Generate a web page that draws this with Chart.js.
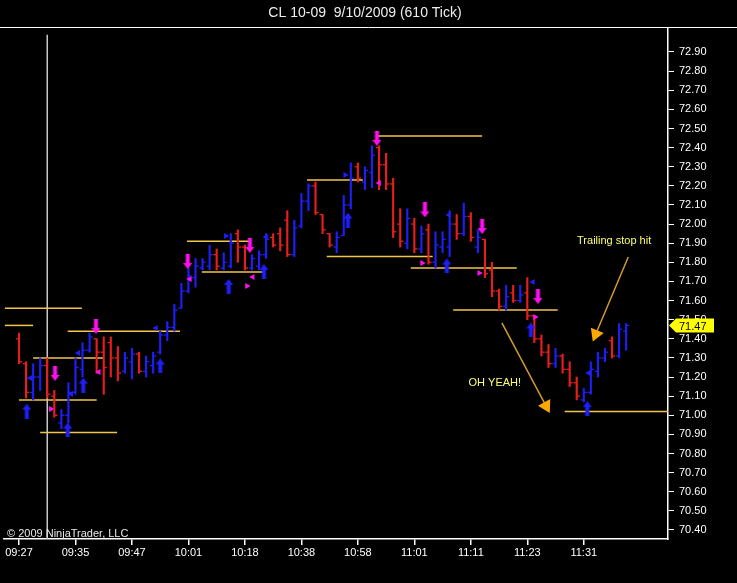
<!DOCTYPE html>
<html>
<head>
<meta charset="utf-8">
<script src="https://cdn.jsdelivr.net/npm/chart.js@4.4.0/dist/chart.umd.min.js"></script>
<style>
  html, body { margin: 0; padding: 0; background: #000; }
</style>
</head>
<body>
<canvas id="tickChart" width="737" height="583"></canvas>
<script>
// 610 tick bars, CL 10-09, 9/10/2009
const chartTitle = "CL 10-09  9/10/2009 (610 Tick)";
const timeLabels = ["09:27", "09:35", "09:47", "10:01", "10:18", "10:38", "10:58", "11:01", "11:11", "11:23", "11:31"];
const timeBars = [0, 8, 16, 24, 32, 40, 48, 56, 64, 72, 80];
const priceTicks = [70.4, 70.5, 70.6, 70.7, 70.8, 70.9, 71.0, 71.1, 71.2, 71.3, 71.4, 71.5, 71.6,
  71.7, 71.8, 71.9, 72.0, 72.1, 72.2, 72.3, 72.4, 72.5, 72.6, 72.7, 72.8, 72.9];

const opens = [71.40, 71.27, 71.12, 71.20, 71.26, 71.10, 70.96, 71.00, 71.12, 71.24,
  71.34, 71.40, 71.33, 71.38, 71.30, 71.23, 71.28, 71.32, 71.23, 71.26,
  71.33, 71.42, 71.46, 71.56, 71.65, 71.72, 71.77, 71.78, 71.84, 71.77,
  71.78, 71.95, 71.88, 71.77, 71.78, 71.84, 71.93, 71.95, 72.02, 71.84,
  71.99, 72.12, 72.20, 72.05, 71.95, 71.88, 71.94, 72.10, 72.30, 72.22,
  72.27, 72.40, 72.31, 72.21, 72.00, 71.90, 72.00, 71.87, 71.97, 71.80,
  71.88, 71.88, 72.00, 71.95, 72.04, 71.88, 71.92, 71.76, 71.65, 71.57,
  71.64, 71.60, 71.64, 71.52, 71.40, 71.33, 71.27, 71.31, 71.24, 71.17,
  71.08, 71.12, 71.23, 71.30, 71.39, 71.31, 71.44];
const highs = [71.43, 71.28, 71.27, 71.30, 71.30, 71.13, 71.03, 71.17, 71.30, 71.38,
  71.43, 71.40, 71.41, 71.41, 71.36, 71.33, 71.35, 71.33, 71.31, 71.33,
  71.44, 71.49, 71.58, 71.69, 71.77, 71.82, 71.82, 71.89, 71.87, 71.85,
  71.95, 71.97, 71.89, 71.84, 71.86, 71.95, 71.95, 71.98, 72.07, 72.02,
  72.16, 72.21, 72.22, 72.05, 71.95, 71.96, 72.15, 72.32, 72.32, 72.30,
  72.41, 72.41, 72.37, 72.24, 72.08, 72.08, 72.03, 71.99, 72.00, 71.96,
  71.96, 72.07, 72.05, 72.11, 72.06, 71.97, 71.92, 71.80, 71.66, 71.68,
  71.68, 71.68, 71.72, 71.52, 71.42, 71.37, 71.35, 71.32, 71.28, 71.20,
  71.14, 71.28, 71.33, 71.35, 71.41, 71.48, 71.48];
const lows = [71.27, 71.09, 71.08, 71.13, 71.09, 70.99, 70.93, 70.96, 71.11, 71.20,
  71.33, 71.22, 71.11, 71.20, 71.18, 71.22, 71.19, 71.22, 71.20, 71.22,
  71.32, 71.39, 71.44, 71.56, 71.64, 71.67, 71.76, 71.76, 71.76, 71.76,
  71.77, 71.80, 71.76, 71.76, 71.76, 71.82, 71.88, 71.86, 71.83, 71.83,
  71.98, 72.07, 72.05, 71.95, 71.88, 71.85, 71.94, 72.08, 72.22, 72.18,
  72.19, 72.18, 72.18, 71.93, 71.88, 71.87, 71.85, 71.85, 71.79, 71.77,
  71.85, 71.83, 71.92, 71.94, 71.91, 71.85, 71.72, 71.62, 71.55, 71.55,
  71.59, 71.59, 71.50, 71.38, 71.31, 71.25, 71.25, 71.22, 71.15, 71.08,
  71.07, 71.11, 71.20, 71.28, 71.30, 71.30, 71.34];
const closes = [71.28, 71.12, 71.20, 71.26, 71.11, 71.00, 71.00, 71.12, 71.25, 71.34,
  71.41, 71.33, 71.25, 71.30, 71.22, 71.30, 71.32, 71.23, 71.28, 71.31,
  71.42, 71.46, 71.55, 71.65, 71.73, 71.78, 71.80, 71.84, 71.78, 71.80,
  71.90, 71.88, 71.77, 71.82, 71.84, 71.92, 71.89, 71.89, 71.84, 71.98,
  72.12, 72.20, 72.06, 71.97, 71.89, 71.93, 72.10, 72.24, 72.24, 72.28,
  72.36, 72.31, 72.21, 71.96, 71.91, 72.03, 71.87, 71.95, 71.80, 71.89,
  71.92, 72.00, 71.95, 72.04, 71.93, 71.93, 71.74, 71.65, 71.57, 71.62,
  71.60, 71.63, 71.52, 71.40, 71.33, 71.27, 71.31, 71.24, 71.17, 71.10,
  71.12, 71.24, 71.30, 71.33, 71.31, 71.45, 71.47];

// drawn horizontal levels (price, from bar, to bar)
const levelPrice = [71.56, 71.47, 71.44, 71.30, 71.08, 70.91, 71.91, 71.75, 72.23, 72.46, 71.83, 71.77, 71.55, 71.02];
const levelFrom = [-2.0, -2.0, 6.9, 2.0, 0.0, 3.0, 23.8, 25.9, 40.8, 50.7, 43.6, 55.5, 61.5, 77.3];
const levelTo = [8.9, 2.0, 22.8, 11.9, 11.0, 13.9, 32.7, 34.8, 48.7, 65.6, 58.6, 70.5, 76.3, 92.2];

// signal markers
const sellBar = [10.9, 5.1, 23.9, 32.7, 50.7, 57.5, 65.6, 73.5];
const sellPrice = [71.464, 71.219, 71.804, 71.888, 72.448, 72.074, 71.987, 71.621];
const buyBar = [1.1, 6.9, 9.1, 20.0, 29.7, 34.7, 46.6, 60.6, 72.5, 80.5];
const buyPrice = [71.022, 70.923, 71.158, 71.258, 71.674, 71.752, 72.021, 71.781, 71.446, 71.035];
const blueLeftBar = [1.6, 7.4, 8.4, 19.4, 35.0, 60.9, 72.8, 80.7];
const blueLeftPrice = [71.195, 71.111, 71.326, 71.456, 71.932, 72.048, 71.697, 71.221];
const blueRightBar = [29.3, 46.2];
const blueRightPrice = [71.938, 72.257];
const pinkLeftBar = [11.3, 24.2, 33.1, 51.0];
const pinkLeftPrice = [71.226, 71.713, 71.723, 72.215];
const pinkRightBar = [4.5, 32.3, 57.1, 65.2, 73.1];
const pinkRightPrice = [71.033, 71.676, 71.796, 71.744, 71.514];

// hand drawn notes
const noteText = ["Trailing stop hit", "OH YEAH!"];
const noteBar = [84.3, 67.4];
const notePrice = [71.911, 71.169];
const arrowFromBar = [68.4, 86.3];
const arrowFromPrice = [71.483, 71.828];
const arrowToBar = [74.65, 81.7];
const arrowToPrice = [71.049, 71.425];
const arrowAngle = [152, 202];

const cursorBar = 4;

const BLUE = "rgb(30,30,245)";
const RED = "rgb(230,30,30)";
const PINK = "#FF10F0";
const LEVEL = "#F2C64A";

function makeArrow(color, up) {
  const c = document.createElement("canvas");
  c.width = 9;
  c.height = 15;
  const g = c.getContext("2d");
  g.fillStyle = color;
  g.beginPath();
  if (up) {
    g.moveTo(4.5, 0); g.lineTo(9, 6); g.lineTo(6.5, 6); g.lineTo(6.5, 15);
    g.lineTo(2.5, 15); g.lineTo(2.5, 6); g.lineTo(0, 6);
  } else {
    g.moveTo(4.5, 15); g.lineTo(9, 9); g.lineTo(6.5, 9); g.lineTo(6.5, 0);
    g.lineTo(2.5, 0); g.lineTo(2.5, 9); g.lineTo(0, 9);
  }
  g.closePath();
  g.fill();
  return c;
}

const barColors = closes.map((c, i) => (c >= opens[i] ? BLUE : RED));
const pts = (xs, ys) => xs.map((x, i) => ({ x: x, y: ys[i] }));

const datasets = [];

// horizontal levels
levelPrice.forEach((p, i) => {
  datasets.push({
    type: "line", data: [{ x: levelFrom[i], y: p }, { x: levelTo[i], y: p }],
    borderColor: LEVEL, borderWidth: 1.5, pointRadius: 0, order: 9
  });
});

// cursor line
datasets.push({
  type: "line", data: [{ x: cursorBar, y: 72.99 }, { x: cursorBar, y: 70.2 }],
  borderColor: "#C8C8C8", borderWidth: 1.5, pointRadius: 0, order: 10
});

// high-low range
datasets.push({
  type: "bar",
  data: highs.map((h, i) => ({ x: i, y: [lows[i], h] })),
  backgroundColor: barColors, barThickness: 1.5, grouped: false, order: 6
});

// open (left) and close (right) ticks
datasets.push({
  type: "scatter", data: opens.map((o, i) => ({ x: i - 0.22, y: o })),
  pointStyle: "line", pointRadius: 1.6, pointBorderWidth: 1.3,
  pointBorderColor: barColors, order: 5
});
datasets.push({
  type: "scatter", data: closes.map((c, i) => ({ x: i + 0.22, y: c })),
  pointStyle: "line", pointRadius: 1.6, pointBorderWidth: 1.3,
  pointBorderColor: barColors, order: 5
});

// signals
const downArrow = makeArrow(PINK, false);
const upArrow = makeArrow(BLUE, true);
datasets.push({ type: "scatter", data: pts(sellBar, sellPrice), pointStyle: downArrow, order: 1 });
datasets.push({ type: "scatter", data: pts(buyBar, buyPrice), pointStyle: upArrow, order: 1 });
datasets.push({ type: "scatter", data: pts(blueLeftBar, blueLeftPrice), pointStyle: "triangle", rotation: -90,
  pointRadius: 3.5, backgroundColor: BLUE, borderColor: BLUE, borderWidth: 0, order: 2 });
datasets.push({ type: "scatter", data: pts(blueRightBar, blueRightPrice), pointStyle: "triangle", rotation: 90,
  pointRadius: 3.5, backgroundColor: BLUE, borderColor: BLUE, borderWidth: 0, order: 2 });
datasets.push({ type: "scatter", data: pts(pinkLeftBar, pinkLeftPrice), pointStyle: "triangle", rotation: -90,
  pointRadius: 3.5, backgroundColor: PINK, borderColor: PINK, borderWidth: 0, order: 2 });
datasets.push({ type: "scatter", data: pts(pinkRightBar, pinkRightPrice), pointStyle: "triangle", rotation: 90,
  pointRadius: 3.5, backgroundColor: PINK, borderColor: PINK, borderWidth: 0, order: 2 });

// drawn arrows
arrowFromBar.forEach((b, i) => {
  datasets.push({
    type: "line",
    data: [{ x: b, y: arrowFromPrice[i] }, { x: arrowToBar[i], y: arrowToPrice[i] }],
    borderColor: "#D29A32", borderWidth: 1.5,
    pointRadius: [0, 8], pointStyle: "triangle", pointRotation: [0, arrowAngle[i]],
    pointBackgroundColor: "#FFA800", pointBorderColor: "#FFA800", pointBorderWidth: 0, order: 0
  });
});

const FONT = '"Liberation Sans", Arial, sans-serif';

const decor = {
  id: "decor",
  beforeDraw(chart) {
    const ctx = chart.ctx;
    ctx.save();
    ctx.fillStyle = "#000";
    ctx.fillRect(0, 0, chart.width, chart.height);
    ctx.restore();
  },
  afterDraw(chart) {
    const ctx = chart.ctx;
    const x = chart.scales.x;
    const y = chart.scales.y;
    ctx.save();
    // title and top rule
    ctx.fillStyle = "#EEEEEE";
    ctx.font = "14px " + FONT;
    ctx.textAlign = "center";
    ctx.textBaseline = "middle";
    ctx.fillText(chartTitle, 365, 13);
    ctx.strokeStyle = "#FFFFFF";
    ctx.lineWidth = 1;
    ctx.beginPath();
    ctx.moveTo(0, 27.5);
    ctx.lineTo(chart.width, 27.5);
    ctx.stroke();

    // copyright
    ctx.font = "11px " + FONT;
    ctx.textAlign = "left";
    ctx.textBaseline = "alphabetic";
    ctx.fillStyle = "#E8E8E8";
    ctx.fillText("\u00A9 2009 NinjaTrader, LLC", 7, 537);

    // notes
    ctx.fillStyle = "#FFFF70";
    ctx.textAlign = "center";
    ctx.textBaseline = "middle";
    noteText.forEach((t, i) => {
      ctx.fillText(t, x.getPixelForValue(noteBar[i]), y.getPixelForValue(notePrice[i]));
    });

    // last price marker
    const last = closes[closes.length - 1];
    const yp = Math.round(y.getPixelForValue(last)) + 0.5;
    const xa = chart.chartArea.right + 1;
    ctx.fillStyle = "#FFFF00";
    ctx.beginPath();
    ctx.moveTo(xa, yp);
    ctx.lineTo(xa + 7, yp - 7);
    ctx.lineTo(xa + 45, yp - 7);
    ctx.lineTo(xa + 45, yp + 7);
    ctx.lineTo(xa + 7, yp + 7);
    ctx.closePath();
    ctx.fill();
    ctx.fillStyle = "#000";
    ctx.textAlign = "left";
    ctx.font = "11px " + FONT;
    ctx.fillText(last.toFixed(2), xa + 10, yp + 1);
    ctx.restore();
  }
};

new Chart(document.getElementById("tickChart"), {
  data: { datasets: datasets },
  options: {
    responsive: false,
    animation: false,
    events: [],
    layout: { autoPadding: false, padding: { left: 4, top: 28, right: 0, bottom: 0 } },
    plugins: { legend: { display: false }, tooltip: { enabled: false }, title: { display: false } },
    scales: {
      x: {
        type: "linear",
        offset: false,
        min: -2.125,
        max: 91.93,
        afterFit: (s) => { s.height = 44; s.paddingLeft = 0; s.paddingRight = 0; },
        afterBuildTicks: (s) => { s.ticks = timeBars.map((v) => ({ value: v })); },
        grid: { drawOnChartArea: false, offset: false, color: "#FFFFFF", tickLength: 6, lineWidth: 1.5 },
        border: { color: "#FFFFFF", width: 1.5 },
        ticks: {
          color: "#FFFFFF", font: { family: FONT, size: 11 }, padding: 1,
          autoSkip: false, maxRotation: 0,
          callback: (v) => timeLabels[timeBars.indexOf(v)]
        }
      },
      y: {
        type: "linear",
        position: "right",
        min: 70.3529,
        max: 73.0255,
        afterFit: (s) => { s.width = 69; s.paddingTop = 0; s.paddingBottom = 0; },
        afterBuildTicks: (s) => { s.ticks = priceTicks.map((v) => ({ value: v })); },
        grid: { drawOnChartArea: false, color: "#FFFFFF", tickLength: 6 },
        border: { color: "#FFFFFF", width: 1.5 },
        ticks: {
          color: "#FFFFFF", font: { family: FONT, size: 11 }, padding: 5,
          callback: (v) => v.toFixed(2)
        }
      }
    }
  },
  plugins: [decor]
});
</script>
</body>
</html>
